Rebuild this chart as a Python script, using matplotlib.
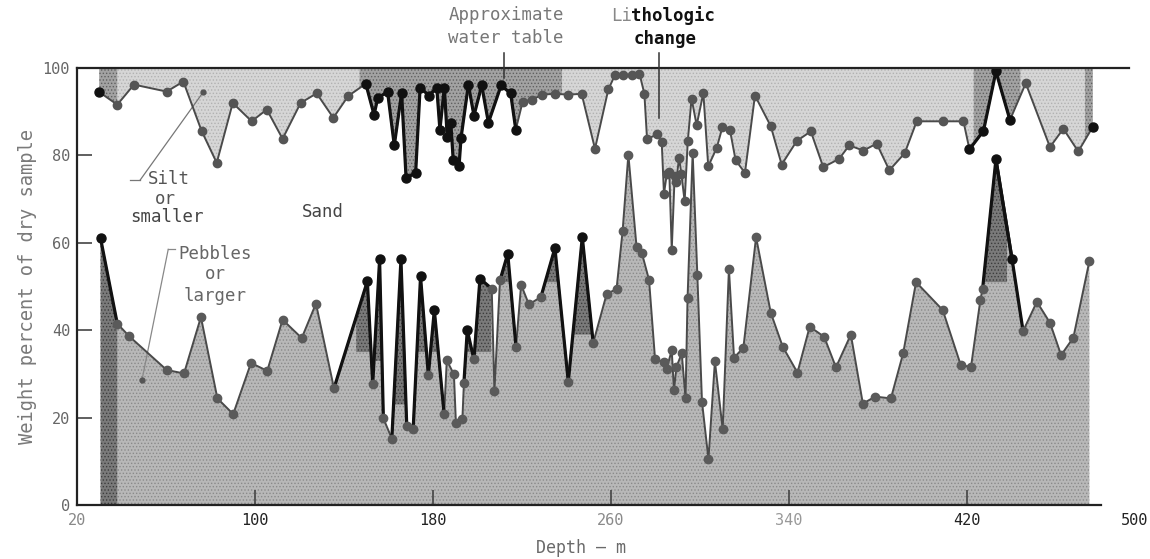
import numpy as np
import matplotlib.pyplot as plt
from matplotlib.transforms import ScaledTranslation

plt.rcParams['font.family'] = ['DejaVu Sans Mono']
plt.rcParams['hatch.linewidth'] = 0.6

# depth (m) vs percent coarser than silt (upper curve, silt fills down from 100)
silt_depth = [30.0, 38.1, 45.6, 60.3, 67.8, 76.0, 82.8, 90.0, 98.5, 105.3,
              112.4, 120.5, 127.7, 135.2, 141.9, 149.8, 153.5, 155.2, 159.6, 162.6,
              165.9, 167.9, 172.2, 174.2, 178.2, 181.7, 183.1, 185.1, 186.4, 188.0,
              189.1, 191.7, 192.6, 195.9, 198.4, 201.9, 204.9, 210.6, 214.9, 217.2,
              220.3, 224.4, 229.1, 234.8, 240.8, 246.8, 252.8, 258.8, 261.8, 265.5,
              269.3, 272.8, 275.0, 276.2, 280.6, 282.8, 283.8, 285.1, 286.2, 287.3,
              288.6, 289.3, 290.6, 291.6, 293.1, 294.5, 296.2, 298.5, 301.5, 303.7,
              307.5, 310.1, 313.5, 316.0, 320.2, 324.7, 331.8, 336.7, 343.5, 349.8,
              355.4, 362.5, 367.1, 373.4, 379.4, 385.1, 392.0, 397.4, 409.4, 418.4,
              421.1, 427.4, 433.0, 439.3, 446.4, 457.3, 463.3, 470.0, 476.5]
silt_line = [94.5, 91.6, 96.2, 94.6, 96.9, 85.6, 78.3, 92.0, 87.8, 90.5,
             83.8, 92.0, 94.2, 88.6, 93.6, 96.4, 89.3, 93.2, 94.5, 82.3,
             94.3, 74.8, 76.0, 95.5, 93.7, 95.5, 85.9, 95.5, 84.2, 87.4,
             78.9, 77.5, 84.0, 96.2, 89.1, 96.0, 87.5, 96.0, 94.2, 85.9,
             92.3, 92.7, 93.9, 94.1, 93.9, 94.1, 81.5, 95.1, 98.4, 98.3,
             98.4, 98.7, 94.1, 83.7, 84.8, 83.0, 71.2, 75.8, 76.2, 58.4,
             75.2, 73.9, 79.5, 75.8, 69.5, 83.2, 93.0, 86.9, 94.3, 77.5,
             81.7, 86.5, 85.7, 78.9, 76.0, 93.7, 86.7, 77.9, 83.3, 85.5,
             77.3, 79.2, 82.3, 81.1, 82.7, 76.6, 80.5, 87.8, 87.8, 87.8,
             81.4, 85.6, 99.2, 88.1, 96.5, 81.9, 86.1, 80.9, 86.5]

# depth (m) vs percent pebbles or larger (lower curve)
pebble_depth = [30.6, 38.1, 43.5, 60.3, 68.1, 75.7, 83.1, 90.2, 98.2, 105.5,
                112.4, 121.0, 127.4, 135.5, 150.5, 152.9, 156.0, 157.7, 161.5, 165.6,
                168.2, 171.1, 174.4, 177.9, 180.6, 185.0, 186.2, 189.4, 190.3, 193.2,
                193.9, 195.4, 198.4, 201.1, 206.4, 207.6, 210.1, 213.6, 217.3, 219.6,
                223.1, 228.5, 234.8, 240.8, 247.1, 252.0, 258.0, 262.5, 265.2, 267.8,
                271.5, 273.9, 277.1, 279.8, 283.6, 285.0, 287.3, 288.3, 289.4, 291.8,
                293.5, 294.4, 296.7, 298.8, 300.9, 303.8, 306.7, 310.2, 313.0, 315.3,
                319.5, 325.2, 331.8, 337.2, 343.8, 349.3, 355.8, 361.1, 367.8, 373.2,
                378.7, 385.8, 391.3, 397.1, 409.1, 417.2, 421.8, 426.0, 427.0, 433.0,
                440.2, 445.2, 451.4, 457.3, 462.3, 467.8, 475.0]
pebble_pct = [61.0, 41.5, 38.6, 30.9, 30.1, 43.0, 24.4, 20.8, 32.5, 30.7,
              42.4, 38.2, 46.1, 26.7, 51.2, 27.7, 56.2, 19.8, 15.2, 56.2,
              18.1, 17.5, 52.3, 29.7, 44.6, 20.8, 33.1, 29.9, 18.8, 19.6,
              28.0, 40.0, 33.3, 51.8, 49.5, 26.1, 51.4, 57.5, 36.2, 50.4,
              45.9, 47.6, 58.8, 28.2, 61.3, 37.1, 48.2, 49.5, 62.6, 80.2,
              59.0, 57.6, 51.5, 33.4, 32.7, 31.2, 35.4, 26.3, 31.6, 34.7,
              24.4, 47.3, 80.6, 52.7, 23.6, 10.5, 32.9, 17.3, 54.1, 33.7,
              36.0, 61.3, 44.0, 36.2, 30.3, 40.8, 38.5, 31.5, 39.0, 23.2,
              24.8, 24.4, 34.7, 51.0, 44.6, 32.0, 31.6, 46.9, 49.4, 79.1,
              56.4, 39.8, 46.5, 41.7, 34.3, 38.3, 55.8]

# samples plotted as solid black dots, with the level where the heavy stipple starts
pebble_black = [30.6, 150.5, 156.0, 165.6, 174.4, 180.6, 195.4, 201.1,
                213.6, 234.8, 247.1, 433.0, 440.2]
pebble_dark_floor = [0, 35, 33, 23, 35, 35, 35, 35, 51, 51, 39, 51, None]
silt_black_ranges = [(29, 31), (148, 218), (420, 440), (475, 477)]
# intervals with the heavier silt stipple
silt_dark_ranges = [(30.0, 38.1), (147, 238), (423, 444), (473, 476.5)]

xticks = [20, 100, 180, 260, 340, 420, 500]
xtick_colors = ['#888888', '#222222', '#222222', '#8a8a8a', '#999999', '#222222', '#222222']
yticks = [0, 20, 40, 60, 80, 100]

sx = np.array(silt_depth)
sy = np.array(silt_line)
px = np.array(pebble_depth)
py = np.array(pebble_pct)

fig = plt.figure(figsize=(11.5, 5.59), dpi=100)
ax = fig.add_axes([77 / 1150, 1 - 505 / 559, 1068 / 1150, 437 / 559])
ax.set_xlim(20, 500)
ax.set_ylim(0, 100)

# base stipple fills
ax.fill_between(sx, sy, 100, facecolor='#d6d6d6', edgecolor='#b2b2b2',
                hatch='.....', linewidth=0, zorder=1)
ax.fill_between(px, 0, py, facecolor='#b8b8b8', edgecolor='#8a8a8a',
                hatch='.....', linewidth=0, zorder=1)

# heavier stipple in the silt band
for a, b in silt_dark_ranges:
    xs = np.linspace(a, b, 300)
    ax.fill_between(xs, np.interp(xs, sx, sy), 100, facecolor='#a2a2a2',
                    edgecolor='#606060', hatch='.....', linewidth=0, zorder=2)

# heavier stipple on the black pebble spikes
for d, floor in zip(pebble_black, pebble_dark_floor):
    if floor is None:
        continue
    i = pebble_depth.index(d)
    if i == 0:
        xs = np.linspace(px[0], px[1], 100)
    else:
        xs = np.linspace(max(px[i - 1], d - 5), min(px[i + 1], d + 5), 300)
    ys = np.interp(xs, px, py)
    ax.fill_between(xs, ys, floor, where=ys >= floor, interpolate=True,
                    facecolor='#7a7a7a', edgecolor='#3c3c3c', hatch='.....',
                    linewidth=0, zorder=2)

# curves
ax.plot(sx, sy, color='#4a4a4a', lw=1.4, zorder=3)
ax.plot(px, py, color='#4a4a4a', lw=1.4, zorder=3)

silt_is_black = np.zeros(len(sx), bool)
for a, b in silt_black_ranges:
    silt_is_black |= (sx >= a) & (sx <= b)
for i in range(len(sx) - 1):
    if silt_is_black[i] and silt_is_black[i + 1]:
        ax.plot(sx[i:i + 2], sy[i:i + 2], color='#111111', lw=2.3, zorder=4)

peb_is_black = np.isin(px, pebble_black)
for i in np.where(peb_is_black)[0]:
    lo, hi = max(i - 1, 0), min(i + 2, len(px))
    ax.plot(px[lo:hi], py[lo:hi], color='#111111', lw=2.3, zorder=4)

ax.plot(sx[~silt_is_black], sy[~silt_is_black], 'o', ms=6, color='#555555', zorder=5)
ax.plot(sx[silt_is_black], sy[silt_is_black], 'o', ms=6.5, color='#111111', zorder=5)
ax.plot(px[~peb_is_black], py[~peb_is_black], 'o', ms=6, color='#5a5a5a', zorder=5)
ax.plot(px[peb_is_black], py[peb_is_black], 'o', ms=6.5, color='#111111', zorder=5)

# frame
for side in ['top', 'right']:
    ax.spines[side].set_visible(False)
for side in ['left', 'bottom']:
    ax.spines[side].set_linewidth(1.6)
    ax.spines[side].set_color('#222222')
ax.spines['bottom'].set_bounds(20, 480)
ax.plot([20, 493], [100, 100], color='#222222', lw=1.6, zorder=6, clip_on=False)

ax.set_xticks(xticks)
ax.set_yticks(yticks)
ax.tick_params(axis='both', direction='in', length=11, width=1.2, color='#444444')
ax.tick_params(axis='x', pad=6, labelsize=11)
ax.tick_params(axis='y', pad=5, labelsize=11, labelcolor='#666666')
for lab, c in zip(ax.get_xticklabels(), xtick_colors):
    lab.set_color(c)
ax.xaxis.get_major_ticks()[-1].tick1line.set_visible(False)
last = ax.get_xticklabels()[-1]
last.set_horizontalalignment('right')
last.set_transform(last.get_transform() + ScaledTranslation(3 / 100, 0, fig.dpi_scale_trans))

ax.set_ylabel('Weight percent of dry sample', fontsize=13.5, color='#7a7a7a', labelpad=4)
fig.text(581 / 1150, 1 - 548 / 559, 'Depth \u2014 m', fontsize=12, color='#6a6a6a',
         ha='center', va='center')

# labels inside the plot
ax.text(52, 74.5, 'Silt', fontsize=12.5, color='#555555', va='center')
ax.text(55, 70.0, 'or', fontsize=12.5, color='#555555', va='center')
ax.text(44, 66.0, 'smaller', fontsize=12.5, color='#444444', va='center')
ax.plot([43.8, 48.3], [74.3, 74.3], color='#777777', lw=0.9)
ax.plot([48.3, 76.6], [74.3, 94.4], color='#777777', lw=0.9)
ax.plot([76.6], [94.4], 'o', ms=3.5, color='#555555', zorder=6)

ax.text(121, 67.0, 'Sand', fontsize=12.5, color='#444444', va='center')

ax.text(82, 57.5, 'Pebbles', fontsize=12.5, color='#666666', va='center', ha='center')
ax.text(82, 52.8, 'or', fontsize=12.5, color='#666666', va='center', ha='center')
ax.text(82, 47.8, 'larger', fontsize=12.5, color='#666666', va='center', ha='center')
ax.plot([61.0, 64.0], [58.5, 58.5], color='#888888', lw=0.9)
ax.plot([61.0, 49.2], [58.5, 28.6], color='#888888', lw=0.9)
ax.plot([49.2], [28.6], 'o', ms=3.5, color='#555555', zorder=6)

# annotations above the frame
fig.text(506 / 1150, 1 - 15 / 559, 'Approximate', fontsize=12.5, color='#777777',
         ha='center', va='center')
fig.text(506 / 1150, 1 - 38 / 559, 'water table', fontsize=12.5, color='#777777',
         ha='center', va='center')
ax.plot([211.9, 211.9], [103.5, 97.7], color='#333333', lw=1.1, clip_on=False, zorder=7)

fig.text(611 / 1150, 1 - 16 / 559, 'Li', fontsize=12.5, color='#888888',
         ha='left', va='center')
fig.text(631 / 1150, 1 - 16 / 559, 'thologic', fontsize=12.5, color='#111111',
         fontweight='bold', ha='left', va='center')
fig.text(665 / 1150, 1 - 39 / 559, 'change', fontsize=12.5, color='#111111',
         fontweight='bold', ha='center', va='center')
ax.plot([281.6, 281.6], [103.5, 88.6], color='#333333', lw=1.1, clip_on=False, zorder=7)

fig.savefig('out.png', dpi=100)
